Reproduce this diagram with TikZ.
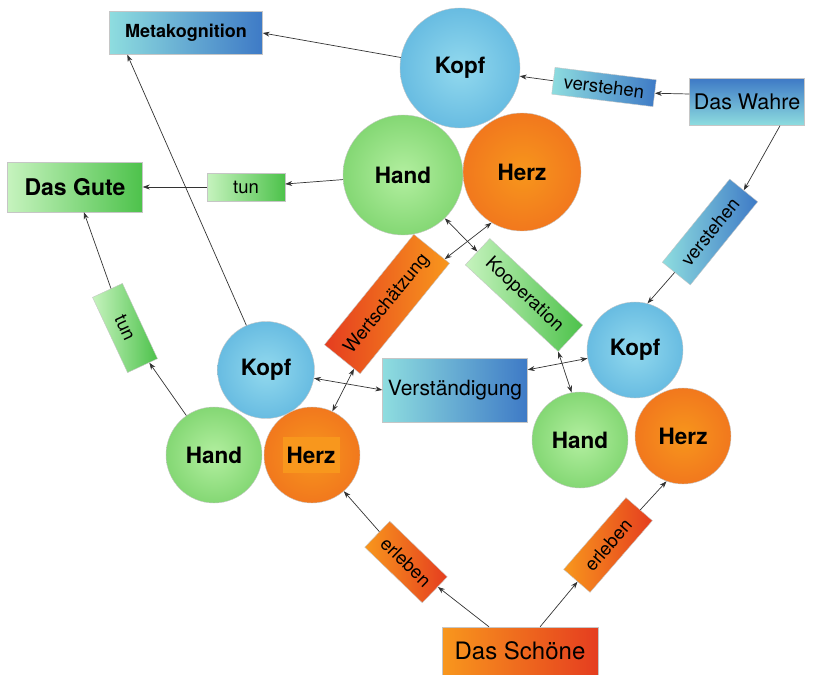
\documentclass[tikz,border=0pt]{standalone}
\usepackage{fontspec}
\setmainfont{TeX Gyre Heros}
\usetikzlibrary{arrows.meta}
\definecolor{cyanl}{HTML}{8EDDDF}
\definecolor{blued}{HTML}{3E7AC6}
\definecolor{greenl}{HTML}{C6F3BE}
\definecolor{greend}{HTML}{4DC24B}
\definecolor{orangel}{HTML}{F8971D}
\definecolor{redd}{HTML}{E53D1F}
\definecolor{kopfin}{HTML}{92D9EE}
\definecolor{kopfout}{HTML}{3E9FD5}
\definecolor{handin}{HTML}{B3EFA0}
\definecolor{handout}{HTML}{55C048}
\definecolor{herzin}{HTML}{F7961C}
\definecolor{herzout}{HTML}{EC5A1F}
\pgfdeclareradialshading{kopfball}{\pgfpointorigin}{color(0bp)=(kopfin); color(50bp)=(kopfout)}
\pgfdeclareradialshading{handball}{\pgfpointorigin}{color(0bp)=(handin); color(50bp)=(handout)}
\pgfdeclareradialshading{herzball}{\pgfpointorigin}{color(0bp)=(herzin); color(50bp)=(herzout)}

\begin{document}
\begin{tikzpicture}[
    x=1pt, y=-1pt,
    >={Stealth[length=7pt, width=5pt]},
    link/.style={->, line width=0.7pt, black!80},
    twoway/.style={<->, line width=0.7pt, black!80},
    ball/.style={circle, draw=gray!45, inner sep=0pt, minimum size=#1, font=\fontsize{22.5}{25}\selectfont\bfseries},
    kopf/.style={ball=#1, shading=kopfball},
    hand/.style={ball=#1, shading=handball},
    herz/.style={ball=#1, shading=herzball},
    tag/.style 2 args={draw=gray!45, inner sep=0pt, minimum width=#1pt, minimum height=#2pt, font=\fontsize{18.5}{20}\selectfont},
    blau/.style={left color=cyanl, right color=blued},
    gruen/.style={left color=greenl, right color=greend},
    rot/.style={left color=orangel, right color=redd},
]
    \useasboundingbox (0, 0) rectangle (821, 674);

    % Kopf, Hand, Herz oben
    \node[kopf=120pt] (kopfO) at (460, 68) {Kopf};
    \node[hand=120pt] (handO) at (403, 175) {Hand};
    \node[herz=118pt] (herzO) at (522, 172) {Herz};

    % links
    \node[kopf=97pt] (kopfL) at (266, 370) {Kopf};
    \node[hand=96pt] (handL) at (214, 455) {Hand};
    \node[herz=96pt] (herzL) at (312, 455) {};
    \node[fill=orangel, inner sep=0pt, minimum width=57pt, minimum height=36pt, font=\fontsize{22.5}{25}\selectfont\bfseries] (herzTxt) at (311, 455) {Herz};

    % rechts
    \node[kopf=96pt] (kopfR) at (635, 350) {Kopf};
    \node[hand=96pt] (handR) at (580, 440) {Hand};
    \node[herz=96pt] (herzR) at (683, 436) {Herz};

    % Das Wahre, Das Gute, Das Schoene
    \node[tag={115}{47}, top color=blued, bottom color=cyanl, font=\fontsize{21.5}{24}\selectfont] (wahr) at (747, 102) {Das Wahre};
    \node[tag={135}{50}, gruen, font=\fontsize{23}{25}\selectfont\bfseries] (gut) at (75, 187) {Das Gute};
    \node[tag={156}{48}, rot, font=\fontsize{24}{26}\selectfont] (schoen) at (520, 651) {Das Schöne};
    \node[tag={153}{43}, blau, font=\fontsize{18}{20}\selectfont\bfseries] (meta) at (186, 33) {Metakognition};

    % Beschriftungen
    \node[tag={102}{27}, blau, rotate=-7] (verO) at (604, 87) {verstehen};
    \node[tag={107}{36}, blau, rotate=51] (verR) at (710, 232) {verstehen};
    \node[tag={78}{28}, gruen] (tunO) at (246, 187) {tun};
    \node[tag={83}{33}, gruen, rotate=-65] (tunL) at (125, 328) {tun};
    \node[tag={142}{46}, left color=redd, right color=orangel, rotate=51] (wert) at (387, 304) {Wertschätzung};
    \node[tag={127}{36}, gruen, rotate=-43] (koop) at (524, 295) {Kooperation};
    \node[tag={145}{64}, blau, font=\fontsize{21}{23}\selectfont] (verst) at (455, 390) {Verständigung};
    \node[tag={80}{36}, rot, rotate=-44] (erlL) at (406, 562) {erleben};
    \node[tag={95}{35}, rot, rotate=49] (erlR) at (608, 545) {erleben};

    % Pfeile
    \draw[link] (kopfO) -- (meta.east);
    \draw[link] ([yshift=8pt]wahr.west) -- (verO.east);
    \draw[link] (verO.west) -- (kopfO);
    \draw[link] (handO) -- (tunO);
    \draw[link] (tunO) -- (gut);
    \draw[link] ([xshift=33pt]wahr.south) -- (verR.east);
    \draw[link] (verR) -- (kopfR.75);
    \draw[link] (kopfL) -- ([xshift=18pt]meta.south west);
    \draw[link] (handL) -- (tunL);
    \draw[link] (tunL) -- (gut);
    \draw[link] (schoen) -- (erlL);
    \draw[link] (erlL) -- (herzL);
    \draw[link] (schoen) -- (erlR);
    \draw[link] (erlR) -- (herzR.250);

    % Wechselwirkungen
    \draw[twoway] (verst.west) -- (kopfL);
    \draw[twoway] ([yshift=-12pt]verst.north east) -- (kopfR.190);
    \draw[twoway] (wert) -- (herzO.239);
    \draw[twoway] (koop.west) -- (handO.314);
    \draw[twoway] (wert) -- (herzL.65);
    \draw[twoway] (koop.south east) -- (handR.100);
\end{tikzpicture}
\end{document}
